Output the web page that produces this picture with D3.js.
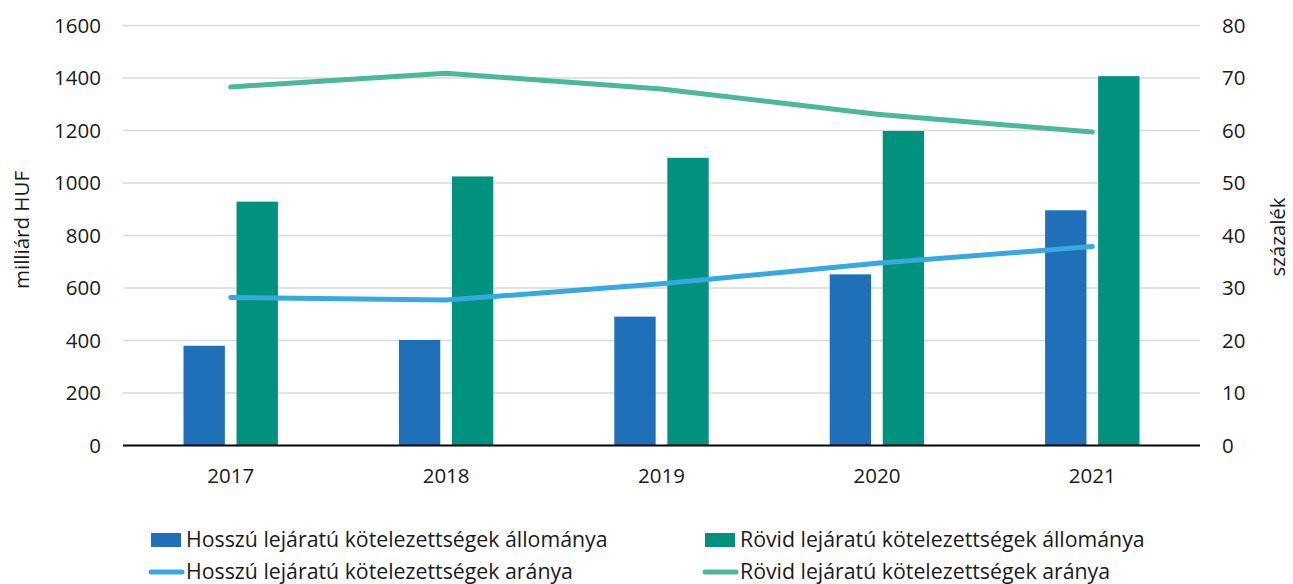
<!DOCTYPE html>
<html>
<head>
<meta charset="utf-8">
<script src="https://cdn.jsdelivr.net/npm/d3@7"></script>
<style>
  body { margin: 0; background: #fff; }
  text { font-family: "Open Sans", sans-serif; fill: #1a1a1a; }
</style>
</head>
<body>
<div id="chart"></div>
<script>
// data
const years = ["2017", "2018", "2019", "2020", "2021"];
const longStock = [380, 402, 491, 652, 896];      // milliárd HUF
const shortStock = [929, 1025, 1096, 1198, 1407]; // milliárd HUF
const longShare = [28.2, 27.7, 30.8, 34.7, 37.9];  // százalék
const shortShare = [68.3, 70.9, 67.9, 63.1, 59.7]; // százalék
const leftTicks = [0, 200, 400, 600, 800, 1000, 1200, 1400, 1600];
const rightTicks = [0, 10, 20, 30, 40, 50, 60, 70, 80];

const colBlue = "#1f70b8", colGreen = "#00927d";
const colBlueLine = "#36a9e1", colGreenLine = "#4bb89a";

let width = 1293, height = 584;
let plot = {left: 123, right: 1200, top: 25.5, bottom: 445.5};
let fs = "20.5px";

let svg = d3.select("#chart")
  .append("svg")
    .attr("width", width)
    .attr("height", height);

let x = d3.scaleBand()
  .domain(years)
  .range([plot.left, plot.right]);

let groupW = 94.4;
let xInner = d3.scaleBand()
  .domain(["long", "short"])
  .range([-groupW / 2, groupW / 2])
  .paddingInner(0.22);

let yLeft = d3.scaleLinear().domain([0, 1600]).range([plot.bottom, plot.top]);
let yRight = d3.scaleLinear().domain([0, 80]).range([plot.bottom, plot.top]);

// gridlines
svg.append("g")
  .selectAll("line")
  .data(leftTicks.slice(1))
  .enter()
  .append("line")
    .attr("x1", plot.left)
    .attr("x2", plot.right)
    .attr("y1", d => yLeft(d))
    .attr("y2", d => yLeft(d))
    .attr("stroke", "#d9d9d9")
    .attr("stroke-width", 1.5);

// left axis
let axL = svg.append("g")
  .attr("transform", "translate(" + plot.left + ",0)")
  .call(d3.axisLeft(yLeft).tickValues(leftTicks).tickFormat(d3.format("d")).tickSize(0).tickPadding(22));
axL.select(".domain").remove();
axL.selectAll("text").attr("font-size", fs).attr("font-family", "Open Sans").attr("fill", "#1a1a1a");

// right axis
let axR = svg.append("g")
  .attr("transform", "translate(" + plot.right + ",0)")
  .call(d3.axisRight(yRight).tickValues(rightTicks).tickSize(0).tickPadding(22));
axR.select(".domain").remove();
axR.selectAll("text").attr("font-size", fs).attr("font-family", "Open Sans").attr("fill", "#1a1a1a");

// bars
let groups = svg.append("g")
  .selectAll("g")
  .data(years)
  .enter()
  .append("g")
    .attr("transform", d => "translate(" + (x(d) + x.bandwidth() / 2) + ",0)");

groups.append("rect")
  .attr("x", xInner("long"))
  .attr("width", xInner.bandwidth())
  .attr("y", (d, i) => yLeft(longStock[i]))
  .attr("height", (d, i) => yLeft(0) - yLeft(longStock[i]))
  .attr("fill", colBlue);

groups.append("rect")
  .attr("x", xInner("short"))
  .attr("width", xInner.bandwidth())
  .attr("y", (d, i) => yLeft(shortStock[i]))
  .attr("height", (d, i) => yLeft(0) - yLeft(shortStock[i]))
  .attr("fill", colGreen);

// baseline
svg.append("line")
  .attr("x1", plot.left)
  .attr("x2", plot.right)
  .attr("y1", yLeft(0))
  .attr("y2", yLeft(0))
  .attr("stroke", "#000")
  .attr("stroke-width", 2);

// x labels
let axB = svg.append("g")
  .attr("transform", "translate(0," + plot.bottom + ")")
  .call(d3.axisBottom(x).tickSize(0).tickPadding(23));
axB.select(".domain").remove();
axB.selectAll("text").attr("font-size", fs).attr("font-family", "Open Sans").attr("fill", "#1a1a1a");

// lines
let line = d3.line()
  .x(d => x(d[0]) + x.bandwidth() / 2)
  .y(d => yRight(d[1]));

svg.append("path")
  .datum(years.map((y, i) => [y, shortShare[i]]))
  .attr("d", line)
  .attr("fill", "none")
  .attr("stroke", colGreenLine)
  .attr("stroke-width", 5)
  .attr("stroke-linecap", "round")
  .attr("stroke-linejoin", "round");

svg.append("path")
  .datum(years.map((y, i) => [y, longShare[i]]))
  .attr("d", line)
  .attr("fill", "none")
  .attr("stroke", colBlueLine)
  .attr("stroke-width", 5)
  .attr("stroke-linecap", "round")
  .attr("stroke-linejoin", "round");

// axis titles
svg.append("text")
  .attr("transform", "translate(29,230) rotate(-90)")
  .attr("text-anchor", "middle")
  .attr("font-size", fs)
  .text("milliárd HUF");

svg.append("text")
  .attr("transform", "translate(1285,237) rotate(-90)")
  .attr("text-anchor", "middle")
  .attr("font-size", fs)
  .text("százalék");

// legend
let legendItems = [
  {label: "Hosszú lejáratú kötelezettségek állománya", color: colBlue, type: "rect", x: 151, y: 540},
  {label: "Rövid lejáratú kötelezettségek állománya", color: colGreen, type: "rect", x: 705, y: 540},
  {label: "Hosszú lejáratú kötelezettségek aránya", color: colBlueLine, type: "line", x: 151, y: 572},
  {label: "Rövid lejáratú kötelezettségek aránya", color: colGreenLine, type: "line", x: 705, y: 572}
];

let legend = svg.append("g")
  .selectAll("g")
  .data(legendItems)
  .enter()
  .append("g")
    .attr("transform", d => "translate(" + d.x + "," + d.y + ")");

legend.filter(d => d.type == "rect")
  .append("rect")
    .attr("x", 0)
    .attr("y", -7)
    .attr("width", 30)
    .attr("height", 14)
    .attr("fill", d => d.color);

legend.filter(d => d.type == "line")
  .append("line")
    .attr("x1", 0)
    .attr("x2", 31)
    .attr("stroke", d => d.color)
    .attr("stroke-width", 5)
    .attr("stroke-linecap", "round");

legend.append("text")
  .attr("x", 35)
  .attr("y", 7)
  .attr("font-size", "21.3px")
  .text(d => d.label);
</script>
</body>
</html>
